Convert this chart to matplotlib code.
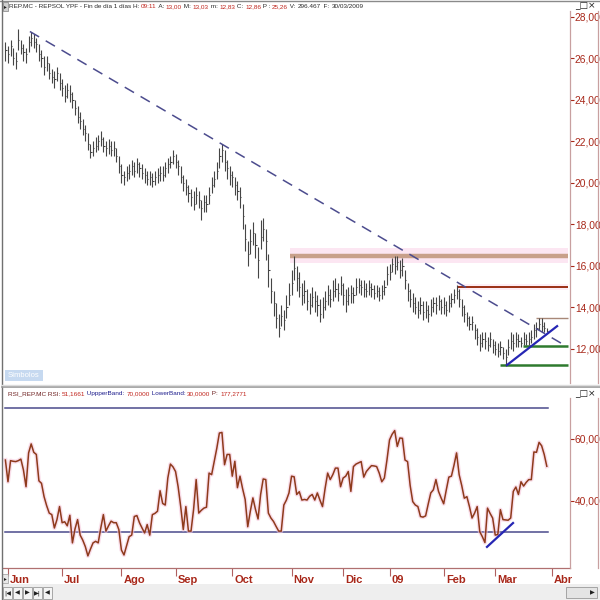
import matplotlib
matplotlib.use('Agg')
import matplotlib.pyplot as plt
from matplotlib.lines import Line2D
from matplotlib.patches import Rectangle
from matplotlib import font_manager

# ---------------- data ----------------
month_labels = ['Jun', 'Jul', 'Ago', 'Sep', 'Oct', 'Nov', 'Dic', '09', 'Feb', 'Mar', 'Abr']
month_starts = [1, 22, 45, 66, 88, 111, 131, 149, 170, 190, 212]

closes = [26.4, 26.2, 26.6, 26.0, 25.9, 26.9, 26.5, 26.3, 26.2, 26.8,
          27.0, 26.8, 26.7, 26.2, 26.0, 25.6, 25.8, 25.3, 25.1, 25.0,
          25.3, 24.8, 24.6, 24.2, 24.5, 24.3, 24.0, 23.6, 23.2, 23.0,
          22.6, 22.4, 21.9, 21.5, 21.7, 21.8, 22.0, 22.1, 21.8, 21.7,
          21.8, 21.6, 21.7, 21.3, 20.8, 20.4, 20.3, 20.5, 20.6, 20.8,
          20.6, 20.9, 20.7, 20.5, 20.4, 20.2, 20.3, 20.1, 20.3, 20.4,
          20.5, 20.4, 20.7, 20.9, 21.0, 21.3, 21.0, 20.8, 20.3, 20.0,
          19.8, 19.5, 19.3, 19.0, 19.4, 19.2, 18.8, 19.1, 19.0, 19.4,
          19.9, 20.2, 20.6, 21.3, 21.6, 21.0, 20.7, 20.4, 20.3, 19.9,
          19.6, 19.3, 18.4, 17.3, 16.6, 17.2, 17.6, 17.0, 16.3, 17.4,
          17.8, 17.2, 15.8, 14.8, 14.2, 13.5, 13.0, 13.6, 13.4, 14.0,
          14.6, 15.2, 15.9, 15.4, 15.0, 14.6, 14.8, 14.3, 14.1, 14.5,
          14.3, 14.1, 13.7, 14.0, 14.3, 14.6, 14.4, 14.8, 14.9, 14.7,
          15.1, 14.6, 14.3, 14.6, 14.7, 14.6, 15.0, 15.1, 15.0, 14.9,
          14.8, 15.0, 14.9, 14.7, 14.8, 14.6, 14.8, 15.0, 15.6, 15.7,
          16.1, 16.0, 16.2, 15.8, 16.0, 15.3, 14.8, 14.4, 14.2, 14.0,
          13.9, 14.1, 13.8, 13.9, 13.7, 14.0, 14.2, 14.1, 14.3, 14.0,
          14.1, 13.9, 14.2, 14.4, 14.6, 14.8, 14.4, 14.0, 13.7, 13.5,
          13.2, 13.3, 12.9, 12.6, 12.3, 12.5, 12.4, 12.2, 12.5, 12.2,
          12.0, 11.9, 12.1, 11.8, 11.6, 12.1, 12.4, 12.3, 12.5, 12.4,
          12.3, 12.5, 12.4, 12.5, 12.6, 12.9, 13.0, 13.2, 13.1, 13.0,
          12.86]

highs = [26.8, 26.6, 26.9, 26.5, 26.3, 27.4, 26.9, 26.7, 26.5, 27.1,
         27.3, 27.2, 27.0, 26.7, 26.4, 26.1, 26.1, 25.8, 25.5, 25.4,
         25.6, 25.3, 25.0, 24.7, 24.8, 24.7, 24.4, 24.0, 23.7, 23.4,
         23.1, 22.8, 22.4, 21.9, 22.0, 22.2, 22.3, 22.5, 22.2, 22.0,
         22.1, 22.0, 22.0, 21.7, 21.3, 20.9, 20.6, 20.8, 20.9, 21.1,
         21.0, 21.2, 21.0, 20.9, 20.7, 20.6, 20.6, 20.5, 20.6, 20.7,
         20.8, 20.8, 21.0, 21.2, 21.3, 21.6, 21.4, 21.1, 20.8, 20.4,
         20.2, 19.9, 19.7, 19.6, 19.8, 19.6, 19.2, 19.4, 19.4, 19.8,
         20.3, 20.6, 21.0, 21.7, 21.9, 21.6, 21.1, 20.8, 20.6, 20.3,
         20.1, 19.8, 19.0, 18.0, 17.2, 17.8, 18.1, 17.6, 16.9, 18.2,
         18.3, 17.8, 16.6, 15.4, 14.8, 14.2, 13.7, 14.1, 13.9, 14.6,
         15.2, 15.8, 16.5, 16.0, 15.7, 15.2, 15.3, 14.9, 14.7, 15.0,
         14.8, 14.6, 14.4, 14.5, 14.8, 15.1, 14.9, 15.3, 15.4, 15.2,
         15.5, 15.2, 14.9, 15.0, 15.1, 15.0, 15.4, 15.4, 15.3, 15.3,
         15.2, 15.3, 15.2, 15.1, 15.1, 15.0, 15.1, 15.3, 16.0, 16.1,
         16.4, 16.5, 16.5, 16.3, 16.4, 15.8, 15.2, 14.9, 14.7, 14.5,
         14.3, 14.5, 14.3, 14.3, 14.1, 14.4, 14.5, 14.5, 14.6, 14.4,
         14.5, 14.3, 14.6, 14.7, 14.9, 15.1, 14.9, 14.4, 14.1, 13.8,
         13.6, 13.6, 13.2, 13.0, 12.7, 12.8, 12.8, 12.6, 12.8, 12.5,
         12.4, 12.3, 12.4, 12.1, 12.0, 12.5, 12.8, 12.7, 12.8, 12.7,
         12.6, 12.8, 12.7, 12.8, 12.9, 13.2, 13.3, 13.5, 13.5, 13.3,
         13.00]

lows = [25.9, 25.8, 26.1, 25.7, 25.5, 26.4, 26.2, 25.9, 25.8, 26.3,
        26.6, 26.5, 26.3, 25.9, 25.6, 25.2, 25.4, 25.0, 24.8, 24.6,
        24.9, 24.5, 24.2, 23.9, 24.1, 23.9, 23.6, 23.3, 22.9, 22.6,
        22.3, 22.0, 21.6, 21.2, 21.3, 21.5, 21.6, 21.8, 21.5, 21.3,
        21.4, 21.3, 21.3, 21.0, 20.5, 20.0, 19.9, 20.1, 20.2, 20.4,
        20.3, 20.5, 20.3, 20.2, 20.0, 19.9, 19.9, 19.8, 19.9, 20.0,
        20.1, 20.1, 20.3, 20.5, 20.7, 20.9, 20.7, 20.4, 20.0, 19.6,
        19.4, 19.1, 18.9, 18.7, 19.0, 18.8, 18.2, 18.6, 18.6, 19.0,
        19.5, 19.8, 20.2, 20.7, 21.0, 20.6, 20.2, 19.9, 19.8, 19.4,
        19.2, 18.8, 17.8, 16.7, 16.0, 16.6, 17.0, 16.4, 15.4, 16.8,
        17.2, 16.3, 15.0, 14.2, 13.6, 13.0, 12.6, 13.1, 12.9, 13.5,
        14.1, 14.6, 15.3, 14.8, 14.5, 14.1, 14.2, 13.9, 13.7, 14.0,
        13.8, 13.6, 13.3, 13.5, 13.9, 14.1, 14.0, 14.3, 14.5, 14.3,
        14.6, 14.1, 13.8, 14.1, 14.2, 14.2, 14.6, 14.7, 14.6, 14.5,
        14.5, 14.6, 14.5, 14.4, 14.5, 14.3, 14.4, 14.6, 15.1, 15.3,
        15.7, 15.6, 15.8, 15.4, 15.5, 14.9, 14.3, 14.0, 13.8, 13.7,
        13.5, 13.7, 13.4, 13.5, 13.3, 13.6, 13.8, 13.7, 13.9, 13.7,
        13.7, 13.6, 13.8, 14.0, 14.2, 14.4, 14.0, 13.6, 13.3, 13.1,
        12.9, 12.9, 12.5, 12.2, 11.9, 12.1, 12.0, 11.9, 12.1, 11.8,
        11.7, 11.6, 11.7, 11.5, 11.2, 11.7, 12.0, 11.9, 12.1, 12.1,
        12.1, 12.2, 12.2, 12.2, 12.3, 12.5, 12.6, 12.9, 12.8, 12.8,
        12.83]

rsi_values = [53.2, 46.2, 53.0, 52.8, 52.7, 53.0, 53.5, 50.0, 44.6, 55.5,
              58.4, 55.7, 55.0, 46.5, 45.7, 41.4, 38.5, 36.1, 35.6, 31.3,
              34.0, 38.2, 33.0, 33.3, 32.0, 35.4, 26.5, 31.0, 34.0, 29.0,
              27.4, 25.3, 22.3, 24.5, 26.5, 27.0, 26.5, 31.3, 35.6, 30.3,
              32.0, 33.5, 33.0, 33.0, 30.8, 24.2, 22.6, 25.5, 28.5, 29.0,
              35.0, 35.3, 33.0, 31.3, 29.7, 32.4, 29.0, 35.6, 36.0, 36.7,
              43.3, 39.2, 38.7, 47.4, 51.9, 51.0, 49.5, 44.6, 38.2, 30.8,
              38.2, 30.3, 30.3, 37.3, 46.9, 36.1, 37.0, 37.7, 38.0, 49.0,
              48.5, 52.8, 57.0, 61.9, 62.1, 51.7, 55.0, 55.0, 48.0, 52.8,
              44.3, 48.0, 44.0, 40.5, 31.7, 36.7, 41.0, 37.3, 34.2, 42.1,
              47.1, 46.9, 36.1, 34.5, 33.4, 31.8, 30.3, 30.3, 38.7, 40.3,
              42.6, 48.0, 47.8, 42.1, 43.0, 40.3, 40.5, 40.3, 41.5, 42.1,
              40.3, 42.6, 40.3, 38.2, 44.0, 49.0, 46.9, 48.5, 50.6, 50.6,
              44.6, 47.4, 48.0, 49.5, 43.1, 51.1, 51.9, 52.3, 52.7, 47.7,
              49.5, 50.5, 51.4, 51.3, 51.1, 49.0, 46.2, 47.4, 53.2, 59.7,
              61.5, 62.7, 57.6, 60.3, 60.2, 53.2, 52.7, 45.0, 39.8, 38.7,
              38.2, 35.0, 34.8, 35.2, 39.0, 42.6, 43.6, 46.9, 43.1, 41.0,
              39.1, 43.5, 47.7, 48.0, 51.5, 55.5, 48.5, 45.0, 40.9, 41.4,
              38.2, 34.5, 36.1, 38.2, 30.1, 28.5, 26.6, 37.7, 36.0, 34.5,
              29.0, 29.2, 37.2, 34.0, 33.9, 33.8, 34.5, 43.1, 44.5, 42.1,
              46.2, 44.8, 46.0, 46.9, 46.9, 55.8, 55.7, 58.9, 57.8, 55.0,
              51.2]

price_ticks = [12, 14, 16, 18, 20, 22, 24, 26, 28]
rsi_ticks = [40, 60]
upper_band = 70
lower_band = 30

# drawn objects (index, value)
dashed_trend_x = [9.5, 218.0]
dashed_trend_y = [27.3, 12.1]
price_support_x = [194.6, 214.0]
price_support_y = [11.23, 13.1]
rsi_support_x = [186.8, 196.9]
rsi_support_y = [25.2, 32.9]
level_values = [16.5, 15.0, 13.5, 12.14, 11.23]
level_starts = [110.4, 175.2, 205.8, 200.8, 191.9]
level_colors = ['#c8a08a', '#9a2e14', '#a88878', '#2e7a2e', '#2e7a2e']
level_widths = [3.2, 1.4, 1.0, 1.8, 1.8]
level_end = 218.2

# ---------------- fonts ----------------
def pick(*names):
    for n in names:
        try:
            font_manager.findfont(font_manager.FontProperties(family=n),
                                  fallback_to_default=False)
            return n
        except Exception:
            pass
    return 'DejaVu Sans'

NARROW = pick('Liberation Sans Narrow', 'Liberation Sans')
SYM = ['DejaVu Sans']

W, H = 600, 600
fig = plt.figure(figsize=(6, 6), dpi=100)
fig.patch.set_facecolor('white')


def fx(px):
    return px / W


def fy(py):
    return 1 - py / H


XMIN, XMAX = -0.93, 219.0
ax1 = fig.add_axes([fx(3), fy(383), fx(567), (383 - 12) / H])
ax2 = fig.add_axes([fx(3), fy(568), fx(567), (568 - 398) / H])
for a in (ax1, ax2):
    a.set_xlim(XMIN, XMAX)
    for s in a.spines.values():
        s.set_visible(False)
    a.set_facecolor('white')
ax1.set_ylim(10.36, 28.24)
ax2.set_ylim(18.4, 73.2)

xs = list(range(len(closes)))
RED = '#a8281a'

# ---- price panel ----
ax1.add_patch(Rectangle((level_starts[0], 16.15), level_end - level_starts[0], 0.7,
                        facecolor='#fce6f2', edgecolor='none', zorder=1))
ax1.add_patch(Rectangle((level_starts[1], 14.85), level_end - level_starts[1], 0.3,
                        facecolor='#fdeef6', edgecolor='none', zorder=1))
ax1.vlines(xs, lows, highs, color='#454545', lw=0.8, zorder=3)
ax1.hlines(closes, [x for x in xs], [x + 0.45 for x in xs], color='#454545', lw=0.75, zorder=3)
ax1.plot(dashed_trend_x, dashed_trend_y, color='#4c4c8e', lw=1.1,
         dashes=(7, 5), zorder=4)
for v, s0, c, w in zip(level_values, level_starts, level_colors, level_widths):
    ax1.plot([s0, level_end], [v, v], color=c, lw=w, solid_capstyle='butt', zorder=2)
ax1.plot(price_support_x, price_support_y, color='#2626b4', lw=1.6, zorder=5)

ax1.yaxis.tick_right()
ax1.set_yticks(price_ticks)
ax1.set_yticklabels([f'{t:.2f}'.replace('.', ',') for t in price_ticks])
ax1.tick_params(axis='y', direction='out', length=3, width=0.8, colors=RED,
                labelsize=7.4, pad=0.5)
for lab in ax1.get_yticklabels():
    lab.set_family(NARROW)
ax1.set_xticks([])

# ---- RSI panel ----
ax2.plot([xs[0], xs[-1] + 0.3], [upper_band, upper_band], color='#4a4a8c', lw=1.1, zorder=2)
ax2.plot([xs[0], xs[-1] + 0.3], [lower_band, lower_band], color='#4a4a8c', lw=1.1, zorder=2)
ax2.plot(xs, rsi_values, color='#f6c8dc', lw=3.0, alpha=0.6, zorder=3,
         solid_joinstyle='round')
ax2.plot(xs, rsi_values, color='#8e3a1c', lw=1.1, zorder=4, solid_joinstyle='round')
ax2.plot(rsi_support_x, rsi_support_y, color='#2626b4', lw=1.6, zorder=5)
ax2.yaxis.tick_right()
ax2.set_yticks(rsi_ticks)
ax2.set_yticklabels([f'{t:.2f}'.replace('.', ',') for t in rsi_ticks])
ax2.tick_params(axis='y', direction='out', length=3, width=0.8, colors=RED,
                labelsize=7.4, pad=0.5)
for lab in ax2.get_yticklabels():
    lab.set_family(NARROW)
ax2.set_xticks(month_starts)
ax2.set_xticklabels([])
ax2.tick_params(axis='x', direction='out', length=6, width=0.8, colors='#b06060')
ax2.spines['bottom'].set_visible(True)
ax2.spines['bottom'].set_color('#b07070')
ax2.spines['bottom'].set_linewidth(0.9)
for m, lab in zip(month_starts, month_labels):
    ax2.annotate(lab, xy=(m, 0), xycoords=('data', 'axes fraction'),
                 xytext=(1.5, -8.5), textcoords='offset points',
                 ha='left', va='center', fontsize=8, color=RED,
                 family=NARROW, fontweight='bold', annotation_clip=False)

# ---------------- chrome ----------------
def fig_line(x0, y0, x1, y1, color, lw=1.0):
    fig.add_artist(Line2D([fx(x0), fx(x1)], [fy(y0), fy(y1)], color=color, lw=lw,
                          transform=fig.transFigure))


def fig_rect(x0, y0, w, h, fc, ec='none', lw=0.8, z=0):
    fig.add_artist(Rectangle((fx(x0), fy(y0 + h)), w / W, h / H, facecolor=fc,
                             edgecolor=ec, lw=lw, transform=fig.transFigure, zorder=z))


fig_line(0, 0.5, 600, 0.5, '#8a8a8a', 1.0)
fig_line(1.5, 0, 1.5, 600, '#707070', 1.0)
fig_line(570, 11, 570, 383, '#c8a0a0', 0.9)
fig_line(570, 398, 570, 568, '#c8a0a0', 0.9)
fig_line(597.5, 11, 597.5, 383, '#c8a0a0', 0.9)
fig_line(597.5, 398, 597.5, 568, '#c8a0a0', 0.9)
fig_line(2, 386.5, 600, 386.5, '#9a9a9a', 1.2)
fig_line(2, 384.5, 600, 384.5, '#dcdcdc', 1.0)

# bottom strip with navigation buttons
fig_rect(2, 584, 598, 16, '#eeeeee', z=0)
for i, g in enumerate(['|\u25c0', '\u25c0', '\u25b6', '\u25b6|', '\u25c0']):
    fig_rect(3 + i * 10, 587, 9, 12, '#f4f4f4', ec='#9a9a9a', lw=0.6, z=1)
    fig.text(fx(7.5 + i * 10), fy(593), g, fontsize=4.5, ha='center', va='center',
             color='#202020', family=SYM)
fig_rect(566, 587, 31, 11, '#e4e4e4', ec='#9a9a9a', lw=0.6, z=1)
fig.text(fx(592), fy(592.5), '\u25b6', fontsize=4.5, ha='center', va='center',
         color='#202020', family=SYM)
fig_rect(2, 574, 6, 9, '#e8e8e8', ec='#9a9a9a', lw=0.5, z=1)
fig.text(fx(5), fy(578.5), '\u25b8', fontsize=4, ha='center', va='center',
         color='#202020', family=SYM)

# Símbolos box
fig_rect(5, 370, 38, 11, '#c6d9f0', z=1)
fig.text(fx(24), fy(375.5), 'Símbolos', fontsize=5.5, ha='center', va='center',
         color='white', family=NARROW)

# window buttons
for yy in (6, 394):
    fig.text(fx(585), fy(yy), '_\u25a1\u00d7', fontsize=6.5, ha='center', va='center',
             color='#202020', family=SYM)

# header icon
fig_rect(2.5, 2, 5, 9, '#d0d0d0', ec='#808080', lw=0.5, z=1)
fig.text(fx(5), fy(6.5), '\u25b8', fontsize=4, ha='center', va='center',
         color='#202020', family=SYM)

renderer = fig.canvas.get_renderer()


def seq_text(x_px, y_px, segments, size, target_w):
    # measure total width, then shrink font to fit the reference span
    total = 0
    for s, c in segments:
        t = fig.text(0, 0, s, fontsize=size, family=NARROW)
        total += t.get_window_extent(renderer=renderer).width
        t.remove()
    size = min(size, size * target_w / total)
    x = x_px
    for s, c in segments:
        t = fig.text(fx(x), fy(y_px), s, color=c, fontsize=size, family=NARROW,
                     ha='left', va='center')
        x += t.get_window_extent(renderer=renderer).width


DK = '#2a2a2a'
VR = '#c0241c'
seq_text(9, 6.5, [('REP.MC - REPSOL YPF - Fin de día 1 días H: ', DK), ('09:11', VR),
                  (' A: ', DK), ('13,00', VR), (' M: ', DK), ('13,03', VR),
                  (' m: ', DK), ('12,83', VR), (' C: ', DK), ('12,86', VR),
                  (' P : ', DK), ('25,26', VR), (' V: ', DK), ('296.467', DK),
                  ('  F: ', DK), ('30/03/2009', DK)], 6.2, 354)

BR = '#6e2020'
BL = '#1c1c8c'
seq_text(8, 393.5, [('RSI_REP.MC RSI: ', BR), ('51,1661', VR), (' UppperBand: ', BL),
                    ('70,0000', VR), (' LowerBand: ', BL), ('30,0000', VR),
                    (' P: ', BR), ('177,2771', VR)], 6.2, 237)

fig.savefig('out.png', dpi=100, facecolor='white')
